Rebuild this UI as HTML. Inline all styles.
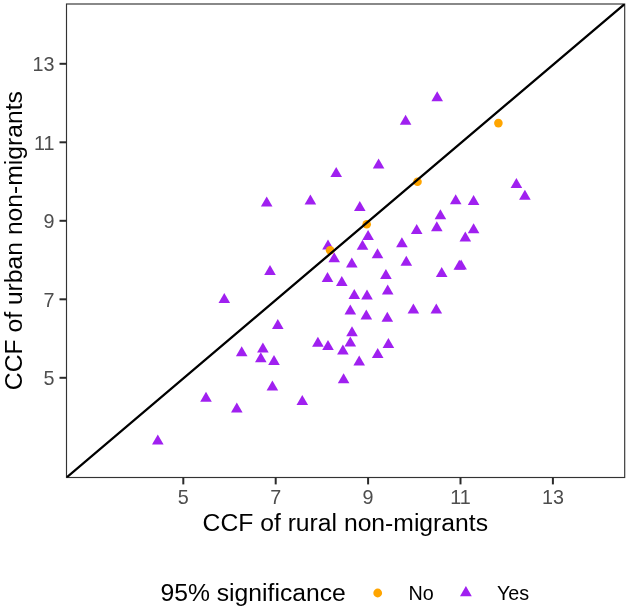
<!DOCTYPE html>
<html lang="en"><head><meta charset="utf-8"><title>CCF scatter plot</title>
<style>
html,body{margin:0;padding:0;background:#fff;}
body{width:628px;height:610px;overflow:hidden;}
svg{display:block;}
text{font-family:"Liberation Sans",Arial,Helvetica,sans-serif;}
.tick{font-size:19.76px;fill:#4d4d4d;}
.title{font-size:24.7px;fill:#000;}
.leg{font-size:19.76px;fill:#000;}
</style></head><body>
<svg width="628" height="610" viewBox="0 0 628 610">
<rect x="0" y="0" width="628" height="610" fill="#fff"/>
<rect x="66.5" y="4.0" width="558.2" height="473.5" fill="none" stroke="#333" stroke-width="1.15"/>
<g fill="#a020f0">
<polygon points="157.8,434.5 152.0,444.5 163.6,444.5"/>
<polygon points="206.0,391.7 200.2,401.7 211.8,401.7"/>
<polygon points="236.8,402.6 231.0,412.6 242.6,412.6"/>
<polygon points="241.7,346.2 235.9,356.2 247.5,356.2"/>
<polygon points="262.9,342.4 257.1,352.4 268.7,352.4"/>
<polygon points="260.8,352.2 255.0,362.2 266.6,362.2"/>
<polygon points="274.0,355.1 268.2,365.1 279.8,365.1"/>
<polygon points="272.4,380.5 266.6,390.5 278.2,390.5"/>
<polygon points="302.3,395.0 296.5,405.0 308.1,405.0"/>
<polygon points="317.9,336.8 312.1,346.8 323.7,346.8"/>
<polygon points="328.0,339.9 322.2,349.9 333.8,349.9"/>
<polygon points="342.9,344.6 337.1,354.6 348.7,354.6"/>
<polygon points="350.3,336.6 344.5,346.6 356.1,346.6"/>
<polygon points="352.0,326.2 346.2,336.2 357.8,336.2"/>
<polygon points="359.2,355.5 353.4,365.5 365.0,365.5"/>
<polygon points="343.6,373.2 337.8,383.2 349.4,383.2"/>
<polygon points="377.7,348.0 371.9,358.0 383.5,358.0"/>
<polygon points="388.4,337.9 382.6,347.9 394.2,347.9"/>
<polygon points="224.3,293.1 218.5,303.1 230.1,303.1"/>
<polygon points="270.0,265.1 264.2,275.1 275.8,275.1"/>
<polygon points="277.8,319.0 272.0,329.0 283.6,329.0"/>
<polygon points="266.7,196.5 260.9,206.5 272.5,206.5"/>
<polygon points="328.0,239.6 322.2,249.6 333.8,249.6"/>
<polygon points="334.2,252.3 328.4,262.3 340.0,262.3"/>
<polygon points="327.5,271.9 321.7,281.9 333.3,281.9"/>
<polygon points="341.8,276.1 336.0,286.1 347.6,286.1"/>
<polygon points="351.8,257.4 346.0,267.4 357.6,267.4"/>
<polygon points="354.3,289.1 348.5,299.1 360.1,299.1"/>
<polygon points="367.0,289.5 361.2,299.5 372.8,299.5"/>
<polygon points="350.3,304.5 344.5,314.5 356.1,314.5"/>
<polygon points="366.3,309.6 360.5,319.6 372.1,319.6"/>
<polygon points="368.1,230.0 362.3,240.0 373.9,240.0"/>
<polygon points="362.5,239.8 356.7,249.8 368.3,249.8"/>
<polygon points="377.5,248.3 371.7,258.3 383.3,258.3"/>
<polygon points="359.8,201.0 354.0,211.0 365.6,211.0"/>
<polygon points="401.9,237.3 396.1,247.3 407.7,247.3"/>
<polygon points="406.3,255.7 400.5,265.7 412.1,265.7"/>
<polygon points="385.9,269.0 380.1,279.0 391.7,279.0"/>
<polygon points="387.7,284.6 381.9,294.6 393.5,294.6"/>
<polygon points="387.3,311.8 381.5,321.8 393.1,321.8"/>
<polygon points="413.4,303.6 407.6,313.6 419.2,313.6"/>
<polygon points="416.7,224.0 410.9,234.0 422.5,234.0"/>
<polygon points="440.4,209.2 434.6,219.2 446.2,219.2"/>
<polygon points="436.8,221.3 431.0,231.3 442.6,231.3"/>
<polygon points="465.3,231.5 459.5,241.5 471.1,241.5"/>
<polygon points="473.6,223.3 467.8,233.3 479.4,233.3"/>
<polygon points="441.7,267.0 435.9,277.0 447.5,277.0"/>
<polygon points="459.3,259.8 453.5,269.8 465.1,269.8"/>
<polygon points="461.1,259.6 455.3,269.6 466.9,269.6"/>
<polygon points="436.3,303.6 430.5,313.6 442.1,313.6"/>
<polygon points="310.4,194.5 304.6,204.5 316.2,204.5"/>
<polygon points="336.2,166.9 330.4,176.9 342.0,176.9"/>
<polygon points="378.6,158.6 372.8,168.6 384.4,168.6"/>
<polygon points="405.6,114.7 399.8,124.7 411.4,124.7"/>
<polygon points="437.2,91.3 431.4,101.3 443.0,101.3"/>
<polygon points="455.7,194.3 449.9,204.3 461.5,204.3"/>
<polygon points="473.6,195.0 467.8,205.0 479.4,205.0"/>
<polygon points="516.4,178.0 510.6,188.0 522.2,188.0"/>
<polygon points="524.9,189.8 519.1,199.8 530.7,199.8"/>
</g>
<g fill="#ffa500">
<circle cx="330.1" cy="250.3" r="4.3"/>
<circle cx="366.7" cy="224.3" r="4.3"/>
<circle cx="417.5" cy="181.8" r="4.3"/>
<circle cx="498.4" cy="123.1" r="4.3"/>
</g>
<clipPath id="pc"><rect x="66.5" y="4.0" width="558.2" height="473.5"/></clipPath>
<line clip-path="url(#pc)" x1="66.5" y1="477.5" x2="624.7" y2="4.0" stroke="#000" stroke-width="2.3" stroke-linecap="round"/>
<g stroke="#2a2a2a" stroke-width="2.0">
<line x1="183.3" y1="477.5" x2="183.3" y2="484.4"/>
<line x1="275.7" y1="477.5" x2="275.7" y2="484.4"/>
<line x1="368.1" y1="477.5" x2="368.1" y2="484.4"/>
<line x1="460.5" y1="477.5" x2="460.5" y2="484.4"/>
<line x1="552.9" y1="477.5" x2="552.9" y2="484.4"/>
<line x1="59.5" y1="63.8" x2="66.5" y2="63.8"/>
<line x1="59.5" y1="142.3" x2="66.5" y2="142.3"/>
<line x1="59.5" y1="220.8" x2="66.5" y2="220.8"/>
<line x1="59.5" y1="299.3" x2="66.5" y2="299.3"/>
<line x1="59.5" y1="377.8" x2="66.5" y2="377.8"/>
</g>
<g class="tick" text-anchor="middle">
<text x="183.3" y="503.9">5</text>
<text x="275.7" y="503.9">7</text>
<text x="368.1" y="503.9">9</text>
<text x="460.5" y="503.9">11</text>
<text x="552.9" y="503.9">13</text>
</g>
<g class="tick" text-anchor="end">
<text x="54.4" y="71.1">13</text>
<text x="54.4" y="149.6">11</text>
<text x="54.4" y="228.1">9</text>
<text x="54.4" y="306.6">7</text>
<text x="54.4" y="385.1">5</text>
</g>
<text class="title" text-anchor="middle" x="345.3" y="531.4">CCF of rural non-migrants</text>
<text class="title" text-anchor="middle" transform="translate(21.8,240.6) rotate(-90)">CCF of urban non-migrants</text>
<text class="title" x="160.5" y="601">95% significance</text>
<circle cx="377.7" cy="593.0" r="4.4" fill="#ffa500"/>
<g fill="#a020f0"><polygon points="465.9,585.9 460.0,596.3 471.8,596.3"/></g>
<text class="leg" x="408.5" y="599.5">No</text>
<text class="leg" x="497.0" y="599.5">Yes</text>
</svg></body></html>
